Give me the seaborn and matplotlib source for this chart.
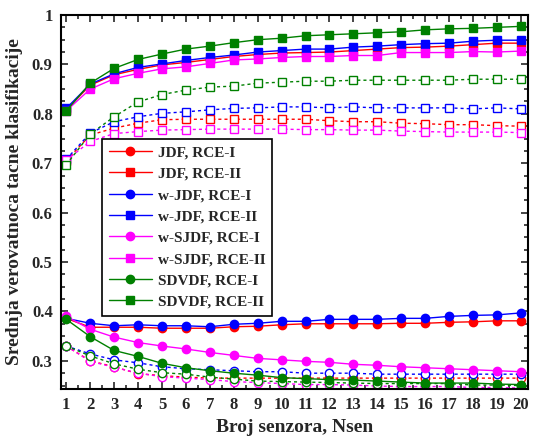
import numpy as np
import pandas as pd
import matplotlib
matplotlib.use("Agg")
import matplotlib.pyplot as plt
import seaborn as sns
from matplotlib.ticker import MultipleLocator

sns.set_style("ticks")
plt.rcParams['font.family'] = ['Liberation Serif', 'DejaVu Serif']
plt.rcParams['font.weight'] = 'bold'

nsen = list(range(1, 21))

# Filled markers, solid lines (shown in legend)
jdf_rce1 = [0.386, 0.368, 0.368, 0.368, 0.366, 0.366, 0.366, 0.369, 0.370, 0.373,
            0.375, 0.375, 0.375, 0.375, 0.376, 0.376, 0.378, 0.379, 0.381, 0.381]
jdf_rce2 = [0.808, 0.858, 0.879, 0.890, 0.899, 0.904, 0.910, 0.916, 0.920, 0.923,
            0.924, 0.925, 0.928, 0.931, 0.934, 0.935, 0.937, 0.940, 0.943, 0.943]
wjdf_rce1 = [0.386, 0.376, 0.371, 0.373, 0.371, 0.371, 0.369, 0.374, 0.376, 0.380,
             0.380, 0.384, 0.384, 0.384, 0.386, 0.386, 0.390, 0.392, 0.393, 0.397]
wjdf_rce2 = [0.811, 0.860, 0.881, 0.894, 0.901, 0.908, 0.914, 0.919, 0.925, 0.928,
             0.931, 0.931, 0.935, 0.937, 0.940, 0.942, 0.943, 0.947, 0.949, 0.949]
wsjdf_rce1 = [0.390, 0.364, 0.348, 0.337, 0.330, 0.324, 0.317, 0.311, 0.305, 0.302,
              0.299, 0.297, 0.293, 0.291, 0.288, 0.286, 0.284, 0.282, 0.280, 0.278]
wsjdf_rce2 = [0.806, 0.850, 0.871, 0.882, 0.891, 0.895, 0.902, 0.909, 0.911, 0.914,
              0.916, 0.916, 0.918, 0.918, 0.924, 0.924, 0.924, 0.926, 0.925, 0.927]
sdvdf_rce1 = [0.384, 0.349, 0.321, 0.309, 0.295, 0.286, 0.280, 0.275, 0.271, 0.266,
              0.264, 0.262, 0.261, 0.259, 0.257, 0.255, 0.255, 0.255, 0.253, 0.252]
sdvdf_rce2 = [0.806, 0.862, 0.892, 0.910, 0.921, 0.931, 0.937, 0.944, 0.950, 0.953,
              0.958, 0.960, 0.962, 0.964, 0.966, 0.970, 0.972, 0.973, 0.975, 0.977]

# Open markers, dotted lines (not in legend)
jdf_rce1_o = [0.330, 0.300, 0.288, 0.274, 0.270, 0.267, 0.265, 0.265, 0.265, 0.265,
              0.265, 0.265, 0.265, 0.265, 0.265, 0.265, 0.265, 0.265, 0.265, 0.265]
jdf_rce2_o = [0.705, 0.757, 0.771, 0.781, 0.788, 0.789, 0.789, 0.789, 0.789, 0.789,
              0.789, 0.786, 0.784, 0.784, 0.781, 0.780, 0.778, 0.778, 0.776, 0.775]
wjdf_rce1_o = [0.330, 0.314, 0.302, 0.296, 0.288, 0.284, 0.282, 0.280, 0.278, 0.278,
               0.275, 0.275, 0.275, 0.273, 0.273, 0.273, 0.273, 0.273, 0.273, 0.273]
wjdf_rce2_o = [0.708, 0.761, 0.784, 0.794, 0.801, 0.804, 0.808, 0.811, 0.812, 0.814,
               0.814, 0.812, 0.814, 0.812, 0.812, 0.812, 0.812, 0.810, 0.812, 0.810]
wsjdf_rce1_o = [0.330, 0.299, 0.287, 0.275, 0.268, 0.265, 0.262, 0.258, 0.256, 0.254,
                0.252, 0.252, 0.251, 0.249, 0.248, 0.248, 0.248, 0.246, 0.246, 0.245]
wsjdf_rce2_o = [0.706, 0.744, 0.760, 0.764, 0.767, 0.768, 0.769, 0.769, 0.769, 0.769,
                0.768, 0.768, 0.767, 0.767, 0.765, 0.764, 0.763, 0.763, 0.763, 0.762]
sdvdf_rce1_o = [0.330, 0.310, 0.294, 0.283, 0.276, 0.273, 0.267, 0.263, 0.259, 0.258,
                0.257, 0.256, 0.255, 0.254, 0.254, 0.254, 0.254, 0.251, 0.251, 0.250]
sdvdf_rce2_o = [0.697, 0.759, 0.794, 0.824, 0.839, 0.848, 0.854, 0.856, 0.862, 0.864,
                0.866, 0.866, 0.868, 0.868, 0.868, 0.868, 0.868, 0.870, 0.870, 0.870]

labels = ["JDF, RCE-I", "JDF, RCE-II", "w-JDF, RCE-I", "w-JDF, RCE-II",
          "w-SJDF, RCE-I", "w-SJDF, RCE-II", "SDVDF, RCE-I", "SDVDF, RCE-II"]
colors = ["#FF0000", "#FF0000", "#0000FF", "#0000FF",
          "#FF00FF", "#FF00FF", "#008000", "#008000"]
markers = ["o", "s", "o", "s", "o", "s", "o", "s"]
filled = [jdf_rce1, jdf_rce2, wjdf_rce1, wjdf_rce2,
          wsjdf_rce1, wsjdf_rce2, sdvdf_rce1, sdvdf_rce2]
opened = [jdf_rce1_o, jdf_rce2_o, wjdf_rce1_o, wjdf_rce2_o,
          wsjdf_rce1_o, wsjdf_rce2_o, sdvdf_rce1_o, sdvdf_rce2_o]

fig = plt.figure(figsize=(5.39, 4.37), dpi=100)
ax = fig.add_axes([61/539, 1-389/437, (528-61)/539, (389-15)/437])

# open (dotted) series first
for vals, c, m in zip(opened, colors, markers):
    sns.lineplot(x=nsen, y=vals, ax=ax, color=c, marker=m, markersize=6,
                 markerfacecolor='white', markeredgecolor=c, markeredgewidth=1.0,
                 linewidth=1.0, linestyle=(0, (2.2, 2.2)), legend=False)

for vals, c, m, lab in zip(filled, colors, markers, labels):
    sns.lineplot(x=nsen, y=vals, ax=ax, color=c, marker=m, markersize=6,
                 markerfacecolor=c, markeredgecolor=c, markeredgewidth=1.0,
                 linewidth=1.0, linestyle='-', label=lab)

ax.set_xlim(0.78, 20.3)
ax.set_ylim(0.243, 1.0)
ax.xaxis.set_major_locator(MultipleLocator(1))
ax.xaxis.set_minor_locator(MultipleLocator(0.5))
ax.yaxis.set_minor_locator(MultipleLocator(0.025))
ax.set_yticks([0.3, 0.4, 0.5, 0.6, 0.7, 0.8, 0.9, 1.0])
ax.set_yticklabels(["0.3", "0.4", "0.5", "0.6", "0.7", "0.8", "0.9", "1"])
ax.tick_params(which='both', direction='in', top=True, right=True,
               labelsize=12, width=1.2, pad=6)
ax.tick_params(which='major', length=5)
ax.tick_params(which='minor', length=3)
for lbl in ax.get_xticklabels() + ax.get_yticklabels():
    lbl.set_fontweight('bold')
for s in ax.spines.values():
    s.set_linewidth(1.5)
    s.set_color('black')

ax.set_xlabel("Broj senzora, Nsen", fontsize=14, fontweight='bold', labelpad=4)
ax.set_ylabel("Srednja verovatnoca tacne klasifikacije", fontsize=14,
              fontweight='bold', labelpad=6)

leg = ax.legend(loc='upper left', bbox_to_anchor=(0.088, 0.669), borderaxespad=0,
                frameon=True, fancybox=False, edgecolor='black', framealpha=1,
                prop={'weight': 'bold', 'size': 11, 'family': 'Liberation Serif'},
                handlelength=2.8, labelspacing=0.5, borderpad=0.45, handletextpad=0.4)
leg.get_frame().set_linewidth(1.2)

fig.savefig("out.png", dpi=100)
